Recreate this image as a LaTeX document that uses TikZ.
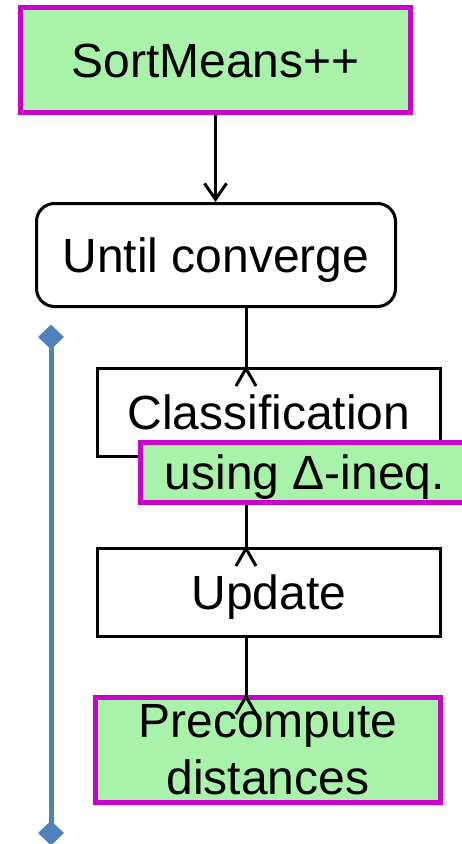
\documentclass[tikz,border=0pt]{standalone}
\usepackage{fontspec}
\setmainfont{Liberation Sans}
\usetikzlibrary{arrows.meta,shapes.geometric}
\definecolor{boxgreen}{RGB}{168,242,170}
\definecolor{hilite}{RGB}{204,0,204}
\definecolor{spineblue}{RGB}{79,129,189}
\tikzset{
  every node/.style={font=\fontsize{48}{57}\selectfont, inner sep=0pt},
  plainbox/.style={draw=black, line width=3pt, fill=white},
  greenbox/.style={draw=hilite, line width=5pt, fill=boxgreen},
  capline/.style={text height=34.4pt, text depth=0pt},
  link/.style={draw=black, line width=3pt},
  chev/.pic={\draw[line width=3pt, line join=miter] (-10pt,-19pt) -- (0pt,-1.5pt) -- (10pt,-19pt);},
  diam/.style={diamond, fill=spineblue, inner sep=0pt, minimum width=26pt, minimum height=25pt},
  spine/.style={draw=spineblue, line width=5pt}
}
\begin{document}
\begin{tikzpicture}[x=1pt,y=-1pt]
\useasboundingbox (0,0) rectangle (461,844);

% loop marker on the left
\node[diam] (ltop) at (51,337) {};
\node[diam] (lbot) at (51,833) {};
\draw[spine] (ltop.center) -- (lbot.center);

% boxes
\node[greenbox, capline, minimum width=390pt, minimum height=105pt] (sort) at (215.5,60) {SortMeans++};
\node[plainbox, capline, rounded corners=18pt, minimum width=359pt, minimum height=103pt] (until) at (216,255) {Until converge};
\node[plainbox, capline, minimum width=343pt, minimum height=88pt] (class) at (269,412.5) {Classification};
\node[greenbox, capline, minimum width=329pt, minimum height=60pt] (ineq) at (305,472.5) {using Δ-ineq.};
\node[plainbox, capline, minimum width=343pt, minimum height=88pt] (update) at (269,592.5) {Update};
\node[greenbox, minimum width=345pt, minimum height=105pt, align=center] (pre) at (268,750) {Precompute\\distances};

% connectors
\coordinate (cx) at (246,0);
\draw[link, -{Straight Barb[length=16pt,width=22pt]}] (sort.south) -- (sort.south |- until.north);
\draw[link] (cx |- until.south) -- (cx |- class.north);
\pic at (cx |- class.north) {chev};
\draw[link] (cx |- ineq.south) -- (cx |- update.north);
\pic at (cx |- update.north) {chev};
\draw[link] (cx |- update.south) -- (cx |- pre.north);
\pic at (cx |- pre.north) {chev};
\end{tikzpicture}
\end{document}
